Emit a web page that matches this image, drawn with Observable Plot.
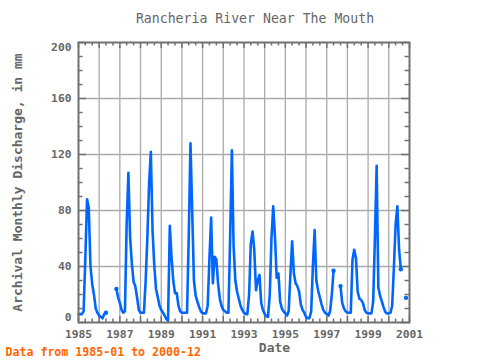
<!DOCTYPE html>
<html>
<head>
<meta charset="utf-8">
<script src="https://cdn.jsdelivr.net/npm/d3@7"></script>
<script src="https://cdn.jsdelivr.net/npm/@observablehq/plot@0.6"></script>
<style>
  html, body { margin: 0; padding: 0; background: #fff; overflow: hidden; }
</style>
</head>
<body>
<div id="chart"></div>
<script>
const title = "Rancheria River Near The Mouth";
const yLabel = "Archival Monthly Discharge, in mm";
const xLabel = "Date";
const caption = "Data from 1985-01 to 2000-12";

const firstYear = 1985;
// Monthly discharge (mm), Jan..Dec per row; null = missing
const discharge = [
  6, 6, 6, 8, 45, 88, 82, 40, 27, 20, 10, 7,          // 1985
  5, 4, 3, 6, 7, null, null, null, null, null, 24, 18, // 1986
  14, 9, 7, 8, 70, 107, 61, 42, 29, 26, 18, 9,        // 1987
  7, 7, 7, 30, 61, 100, 122, 65, 40, 24, 18, 12,      // 1988
  9, 7, 5, 2.5, 1.5, 69, 47, 30, 21, 21, 12, 8,       // 1989
  7, 7, 7, 7, 60, 128, 80, 30, 19, 15, 11, 8,         // 1990
  6.5, 6.5, 6.5, 12, 45, 75, 28, 47, 45, 28, 17, 12,  // 1991
  9, 8, 7, 7, 60, 123, 55, 30, 22, 17, 12, 9,         // 1992
  7, 6, 6, 20, 56, 65, 52, 23, 30, 34, 14, 9,         // 1993
  6, 4.5, 4, 20, 60, 83, 62, 32, 35, 15, 10, 8,       // 1994
  6.5, 5, 8, 35, 58, 35, 28, 26, 22, 13, 9, 7,        // 1995
  4, 3, 3, 8, 40, 66, 30, 23, 18, 13, 9, 7,           // 1996
  6, 5, 8, 20, 37, null, null, null, 26, 14, 10, 8,   // 1997
  7, 7, 7, 45, 52, 46, 22, 17, 16, 14, 9, 7,          // 1998
  6.5, 6.5, 6.5, 15, 60, 112, 25, 19, 15, 11, 7.5, 6.5, // 1999
  6.5, 7, 12, 40, 70, 83, 52, 38, null, null, 17.6, null // 2000
];

const xTickYears = [1985, 1987, 1989, 1991, 1993, 1995, 1997, 1999, 2001];
const yTickInner = [40, 80, 120, 160];
const yTickTop = [200];
const yTickBottom = [0];
const gridYValues = [40, 80, 120, 160];

const data = discharge.map((v, i) => ({
  date: new Date(Date.UTC(firstYear + Math.floor(i / 12), i % 12, 1)),
  value: v
}));
const edgePoints = data.filter((d, i) => d.value != null &&
  ((i > 0 && discharge[i - 1] == null) || (i < discharge.length - 1 && discharge[i + 1] == null)));

const yearDates = d3.range(1985, 2002).map(y => new Date(Date.UTC(y, 0, 1)));
const minorDates = d3.range(1985, 2001).flatMap(y => [new Date(Date.UTC(y, 4, 1)), new Date(Date.UTC(y, 8, 1))]);
const labelDates = xTickYears.map(y => new Date(Date.UTC(y, 0, 1)));
const yMinor = d3.range(0, 201, 10).filter(v => v % 40 !== 0);
const yMajor = d3.range(0, 201, 40);

const W = 480, H = 360, mL = 78, mR = 71, mT = 42, mB = 38;
const fw = W - mL - mR, fh = H - mT - mB;
const frameColor = "#707070";
const textColor = "#666666";
const mono = "'DejaVu Sans Mono', 'Liberation Mono', monospace";
const yAxisOpts = {tickSize: 0, tickPadding: 7, fontWeight: "bold", fontSize: 11.3, label: null};

const chart = Plot.plot({
  width: W, height: H,
  marginLeft: mL, marginRight: mR, marginTop: mT, marginBottom: mB,
  style: {fontFamily: mono, fontSize: "11px", color: textColor, background: "#fff"},
  x: {type: "utc", domain: [new Date(Date.UTC(1985, 0, 1)), new Date(Date.UTC(2001, 0, 1))]},
  y: {domain: [0, 200]},
  marks: [
    Plot.ruleX(yearDates.slice(1, -1), {stroke: "#aaaaaa", strokeWidth: 1.3}),
    Plot.ruleY(gridYValues, {stroke: "#aaaaaa", strokeWidth: 1.3}),
    // ticks inside the frame
    Plot.tickX(minorDates, {x: d => d, insetTop: fh - 3.5, stroke: frameColor, strokeWidth: 1.5}),
    Plot.tickX(minorDates, {x: d => d, insetBottom: fh - 3.5, stroke: frameColor, strokeWidth: 1.5}),
    Plot.tickX(yearDates, {x: d => d, insetTop: fh - 6, stroke: frameColor, strokeWidth: 1.5}),
    Plot.tickX(yearDates, {x: d => d, insetBottom: fh - 6, stroke: frameColor, strokeWidth: 1.5}),
    Plot.tickY(yMinor, {y: d => d, insetRight: fw - 4.5, stroke: frameColor, strokeWidth: 1.5}),
    Plot.tickY(yMinor, {y: d => d, insetLeft: fw - 4.5, stroke: frameColor, strokeWidth: 1.5}),
    Plot.tickY(yMajor, {y: d => d, insetRight: fw - 8, stroke: frameColor, strokeWidth: 1.5}),
    Plot.tickY(yMajor, {y: d => d, insetLeft: fw - 8, stroke: frameColor, strokeWidth: 1.5}),
    Plot.lineY(data, {x: "date", y: "value", stroke: "#0066ff", strokeWidth: 2.6}),
    Plot.dot(edgePoints, {x: "date", y: "value", fill: "#0066ff", r: 2.2}),
    Plot.frame({stroke: frameColor, strokeWidth: 2}),
    Plot.axisX({ticks: labelDates, tickFormat: d3.utcFormat("%Y"), tickSize: 0, tickPadding: 7,
      fontWeight: "bold", fontSize: 11.3, label: null}),
    Plot.axisY({...yAxisOpts, ticks: yTickInner}),
    Plot.axisY({...yAxisOpts, ticks: yTickTop, dy: 5}),
    Plot.axisY({...yAxisOpts, ticks: yTickBottom, dy: -5}),
    Plot.text([title], {text: d => d, frameAnchor: "top", dx: 11, dy: -24, fontSize: 13.2,
      fill: textColor, lineAnchor: "middle"}),
    Plot.text([xLabel], {text: d => d, frameAnchor: "bottom", dx: 30.5, dy: 25.5, fontSize: 13,
      fontWeight: "bold", fill: textColor, lineAnchor: "middle"}),
    Plot.text([yLabel], {text: d => d, frameAnchor: "left", dx: -61, dy: 0, rotate: -90, fontSize: 13,
      fontWeight: "bold", fill: textColor, textAnchor: "middle", lineAnchor: "middle"}),
    Plot.text([caption], {text: d => d, frameAnchor: "bottom-left", dx: -73, dy: 30, fontSize: 11.6,
      fontWeight: "bold", fill: "#ff6600", textAnchor: "start", lineAnchor: "middle"})
  ]
});
document.getElementById("chart").appendChild(chart);
</script>
</body>
</html>
